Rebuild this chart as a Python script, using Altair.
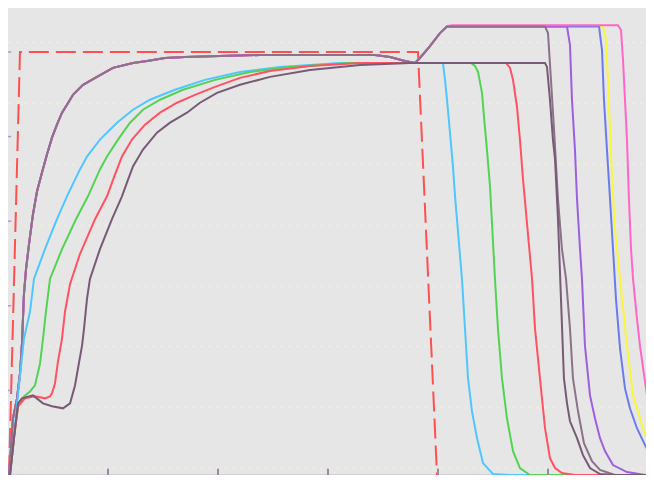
import altair as alt
import pandas as pd

# ---- data (x in time units, ticks every 10; y in %, red pulse = 100) ----
red_pulse_x = [1.0, 2.0, 38.18, 39.91]
red_pulse_y = [0, 100, 100, 0]

light_blue_x = [1.09, 1.45, 1.73, 2.0, 2.36, 2.91, 3.27, 4.27, 5.36, 6.27, 7.45, 8.09, 9.27, 10.82, 12.27, 13.82, 16.09, 18.82, 22.0, 25.64, 31.09, 40.45, 40.64, 40.82, 41.09, 41.36, 41.55, 42.18, 42.73, 43.09, 43.55, 44.09, 45.0, 46.55, 60.18]
light_blue_y = [0, 8.7, 16.94, 23.29, 32.24, 38.59, 46.35, 53.41, 60.47, 65.88, 72.24, 75.29, 79.29, 83.29, 86.35, 88.71, 91.06, 93.41, 95.29, 96.47, 97.41, 97.41, 93.41, 88.71, 80.94, 72.94, 65.88, 46.35, 22.82, 15.06, 8.7, 2.82, 0.24, 0, 0]

green_x = [1.09, 1.45, 1.82, 2.36, 2.91, 3.36, 3.82, 4.09, 4.36, 4.73, 5.82, 7.09, 8.18, 9.27, 9.91, 10.91, 12.0, 13.18, 14.73, 16.82, 19.73, 22.91, 26.55, 32.0, 43.0, 43.36, 43.64, 44.0, 44.18, 44.45, 44.73, 45.18, 45.45, 45.82, 46.27, 46.82, 47.45, 48.36, 60.18]
green_y = [0, 8.7, 16.24, 18.59, 19.76, 21.18, 26.35, 32.24, 38.59, 46.35, 53.41, 60.47, 65.88, 72.24, 75.29, 79.29, 83.29, 86.35, 88.71, 91.06, 93.41, 95.29, 96.47, 97.41, 97.41, 96.71, 95.29, 90.35, 84.71, 76.94, 68.24, 46.35, 34.59, 22.82, 13.41, 5.65, 1.65, 0, 0]

red_x = [1.09, 1.45, 1.82, 2.45, 3.36, 4.27, 4.73, 4.91, 5.18, 5.45, 5.82, 6.09, 6.55, 7.45, 8.82, 9.91, 10.64, 11.27, 12.18, 13.36, 14.73, 16.27, 17.91, 19.73, 22.0, 24.73, 28.36, 32.91, 46.18, 46.55, 46.82, 47.18, 47.45, 47.73, 48.55, 48.82, 49.27, 49.73, 50.18, 50.64, 51.27, 52.45, 60.18]
red_y = [0, 8.7, 16.24, 18.12, 18.59, 18.12, 18.59, 19.29, 21.65, 26.82, 32.24, 38.59, 45.18, 52.24, 60.47, 65.88, 71.06, 75.29, 79.29, 82.82, 85.65, 88.0, 89.88, 91.76, 93.88, 95.53, 96.71, 97.41, 97.41, 96.24, 93.41, 87.06, 79.29, 69.88, 46.35, 34.59, 22.82, 11.06, 4.0, 1.65, 0.47, 0, 0]

dark_x = [1.09, 1.45, 1.82, 2.18, 3.18, 4.09, 4.91, 5.91, 6.55, 7.0, 7.27, 7.64, 7.82, 8.09, 8.36, 9.27, 10.36, 11.27, 11.73, 12.27, 13.18, 14.45, 15.64, 17.18, 18.36, 19.91, 22.0, 24.73, 28.36, 32.91, 37.45, 49.73, 49.91, 50.18, 50.45, 50.64, 50.91, 51.18, 51.45, 51.73, 52.0, 52.64, 53.18, 53.82, 54.73, 56.09, 60.18]
dark_y = [0, 8.7, 16.94, 18.12, 18.82, 16.94, 16.24, 15.76, 16.94, 21.18, 25.18, 30.59, 34.59, 41.65, 46.35, 53.41, 60.47, 65.88, 69.18, 72.94, 76.94, 80.94, 83.29, 85.65, 88.0, 90.35, 92.24, 94.12, 95.76, 96.94, 97.41, 97.41, 96.47, 88.71, 79.29, 74.59, 60.47, 41.65, 22.82, 16.94, 12.7, 8.7, 4.7, 1.65, 0.24, 0, 0]

# shared fast rise of the late-falling group
fast_x = [1.0, 1.18, 1.36, 1.73, 2.0, 2.18, 2.27, 2.36, 2.55, 2.82, 3.18, 3.55, 4.0, 4.45, 4.91, 5.36, 5.82, 6.27, 6.82, 7.73, 9.0, 10.45, 12.27, 13.55, 15.18, 17.0, 20.18, 23.82, 34.27, 35.64, 37.0, 37.91, 38.36, 39.27, 40.18]
fast_y = [0, 6.35, 13.41, 18.12, 24.0, 31.06, 36.94, 42.82, 48.71, 54.59, 61.65, 67.06, 71.53, 75.76, 79.76, 82.82, 85.65, 87.53, 89.88, 92.24, 94.12, 96.24, 97.41, 97.88, 98.59, 98.82, 99.06, 99.29, 99.29, 98.82, 97.88, 97.41, 98.59, 101.41, 104.47]

gray_fall_x = [40.82, 41.27, 49.73, 50.0, 50.27, 50.55, 50.91, 51.27, 51.64, 52.0, 52.27, 52.73, 53.27, 54.0, 54.73, 56.09, 60.18]
gray_fall_y = [106.0, 106.0, 106.0, 104.47, 93.41, 81.65, 65.18, 53.41, 46.35, 34.59, 22.82, 15.06, 7.53, 3.29, 1.18, 0, 0]

purple_fall_x = [40.82, 41.27, 51.73, 52.0, 52.18, 52.45, 52.64, 52.91, 53.09, 53.36, 53.82, 54.27, 54.73, 55.18, 55.91, 57.18, 58.82, 60.18]
purple_fall_y = [106.0, 106.0, 106.0, 101.65, 88.71, 76.94, 65.18, 53.41, 46.35, 30.59, 18.82, 13.41, 8.7, 5.65, 2.35, 0.7, 0, 0]

blue_fall_x = [40.82, 41.27, 54.64, 54.91, 55.09, 55.36, 55.64, 55.91, 56.18, 56.55, 57.0, 57.45, 58.09, 58.82, 59.64, 60.18]
blue_fall_y = [106.0, 106.0, 106.0, 100.47, 88.71, 76.94, 65.18, 53.41, 41.65, 29.88, 20.47, 15.76, 11.06, 7.06, 3.29, 1.65]

yellow_fall_x = [40.82, 41.27, 55.0, 55.27, 55.45, 55.64, 55.82, 56.09, 56.55, 57.18, 57.73, 58.64, 59.27, 60.18]
yellow_fall_y = [106.0, 106.0, 106.0, 102.82, 93.41, 81.65, 69.88, 58.12, 46.35, 30.59, 18.82, 11.06, 6.35, 2.82]

pink_fall_x = [40.82, 41.27, 56.36, 56.64, 56.82, 57.0, 57.18, 57.36, 57.55, 57.73, 58.09, 58.36, 59.0, 59.45, 59.82, 60.18]
pink_fall_y = [106.12, 106.35, 106.35, 105.18, 98.12, 88.71, 79.29, 65.18, 53.41, 46.35, 36.94, 30.59, 18.82, 11.06, 7.53, 5.18]

x_ticks = [10, 20, 30, 40, 50]
y_ticks = [20, 40, 60, 80, 100]

X_DOMAIN = [0.909, 58.91]
Y_DOMAIN = [0, 110.4]
PLOT_W, PLOT_H = 638, 467

# dotted background rows, snapped to whole pixels
_ppu = PLOT_H / Y_DOMAIN[1]
grid_vals = [(PLOT_H - (round(460 - 15.2 * k))) / _ppu for k in range(31)]


def xenc():
    return alt.X("x:Q", scale=alt.Scale(domain=X_DOMAIN, nice=False, zero=False),
                 axis=alt.Axis(domain=True, domainColor="#c2b6cc", domainWidth=2,
                               ticks=False, labels=False, grid=False, title=None))


def yenc():
    return alt.Y("y:Q", scale=alt.Scale(domain=Y_DOMAIN, nice=False, zero=False),
                 axis=alt.Axis(domain=False, ticks=False, labels=False, grid=True,
                               values=grid_vals, gridColor="#f1efdb", gridDash=[2, 6],
                               gridWidth=2, title=None))


def series(xs, ys, color, width=2, dash=None):
    df = pd.DataFrame({"x": xs, "y": ys, "i": list(range(len(xs)))})
    kw = dict(color=color, strokeWidth=width, clip=True)
    if dash:
        kw["strokeDash"] = dash
    return alt.Chart(df).mark_line(**kw).encode(x=xenc(), y=yenc(), order="i:Q")


def fast_member(fall_x, fall_y, color):
    return series(fast_x + fall_x, fast_y + fall_y, color)


layers = [
    series(red_pulse_x, red_pulse_y, "#ff4f4f", 2, [20, 7]),
    fast_member(yellow_fall_x, yellow_fall_y, "#f8f83a"),
    fast_member(blue_fall_x, blue_fall_y, "#6a7cec"),
    fast_member(purple_fall_x, purple_fall_y, "#9c5fe0"),
    fast_member(pink_fall_x, pink_fall_y, "#ff66c8"),
    fast_member(gray_fall_x, gray_fall_y, "#8c7288"),
    series(light_blue_x, light_blue_y, "#4fc6ff"),
    series(green_x, green_y, "#52d452"),
    series(red_x, red_y, "#ff5262"),
    series(dark_x, dark_y, "#775a76"),
]

xt = alt.Chart(pd.DataFrame({"x": x_ticks})).mark_rule(color="#9a88a0", strokeWidth=2).encode(
    x=xenc(), y=alt.datum(0), y2=alt.datum(1.5))
yt = alt.Chart(pd.DataFrame({"y": y_ticks})).mark_rule(color="#b096d6", strokeWidth=1.5).encode(
    y=yenc(), x=alt.datum(0.909), x2=alt.datum(1.2))

chart = alt.layer(*layers, xt, yt).properties(
    width=PLOT_W, height=PLOT_H, padding=0,
    autosize=alt.AutoSizeParams(type="none")
).configure_view(fill="#e6e6e6", stroke=None)

chart.save("out.html", embed_options={"renderer": "svg", "actions": False})
